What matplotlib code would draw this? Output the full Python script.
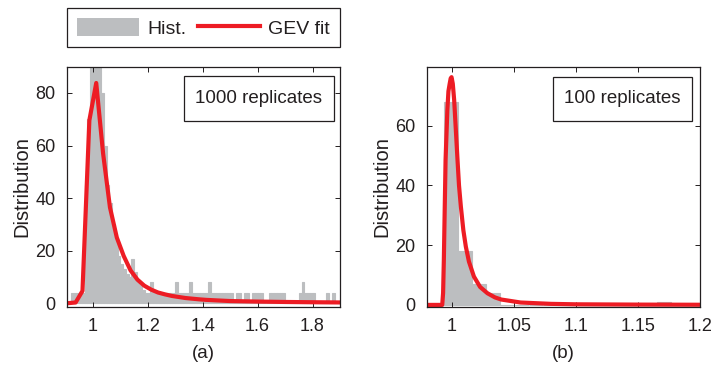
import numpy as np
import matplotlib
matplotlib.use('Agg')
import matplotlib.pyplot as plt
from matplotlib.patches import Patch, Rectangle
from matplotlib.lines import Line2D

#%% data
# (a) 1000 replicates: histogram, bins of 0.01 starting at 0.90
hist_a_start = 0.90
hist_a_width = 0.01
hist_a = [0, 0, 4, 4, 4, 4, 4, 45, 70, 100,
          100, 100, 95, 80, 60, 45, 38, 30, 24, 18,
          15, 13, 11, 10, 17, 12, 8, 7, 5, 4,
          4, 8, 4, 4, 4, 4, 4, 4, 4, 4,
          8, 4, 4, 4, 4, 8, 4, 4, 4, 4,
          4, 4, 8, 4, 4, 4, 4, 4, 4, 4,
          4, 0, 4, 4, 0, 4, 4, 0, 4, 4,
          4, 4, 0, 0, 4, 4, 4, 4, 4, 4,
          0, 0, 0, 0, 0, 4, 8, 4, 4, 4,
          4, 0, 0, 0, 0, 4, 0, 4, 0, 0]

# GEV fit (a)
fit_a_x = [0.905, 0.9375, 0.9625, 0.9875, 1.0125, 1.0375, 1.0625, 1.0875,
           1.1125, 1.1375, 1.1625, 1.1875, 1.2125, 1.2375, 1.2625, 1.2875,
           1.3125, 1.3375, 1.3625, 1.3875, 1.4125, 1.45, 1.5, 1.6, 1.7, 1.8, 1.9]
fit_a_y = [0.0, 0.3, 4.7, 69.6, 83.8, 57.0, 36.5, 25.0,
           18.0, 12.5, 9.0, 6.7, 5.2, 4.1, 3.4, 2.8,
           2.4, 2.0, 1.75, 1.5, 1.3, 1.1, 0.85, 0.65, 0.5, 0.4, 0.32]

# (b) 100 replicates: histogram
hist_b_start = 0.9936
hist_b_width = 0.01143
hist_b = [68, 18, 7, 4, 0, 0, 0, 0, 0, 0, 0, 0, 0, 0, 0, 1]

# GEV fit (b)
fit_b_x = [0.98, 0.9925, 0.9932, 0.9938, 0.9945, 0.9952, 0.9966, 0.9975,
           0.9985, 0.9993, 1.0, 1.001, 1.0021, 1.0034, 1.0048, 1.006,
           1.0075, 1.0095, 1.0115, 1.014, 1.018, 1.023, 1.0289, 1.035,
           1.04, 1.0556, 1.08, 1.1, 1.15, 1.2]
fit_b_y = [0.0, 0.0, 4.0, 15.0, 32.0, 48.5, 65.0, 71.5,
           74.0, 75.8, 76.2, 74.0, 68.6, 59.0, 48.5, 40.0,
           32.9, 25.0, 19.5, 14.5, 9.5, 6.0, 3.9, 2.5,
           1.8, 0.8, 0.35, 0.2, 0.1, 0.05]

#%% style
red = '#ed1c24'
gray = '#bcbec0'
ink = '#231f20'
plt.rcParams['font.family'] = ['Liberation Sans', 'DejaVu Sans']

W, H = 711, 367
fig = plt.figure(figsize=(W / 100, H / 100), dpi=100)
ax_a = fig.add_axes([66.7 / W, 1 - 306.7 / H, 273.3 / W, 240 / H])
ax_b = fig.add_axes([426.7 / W, 1 - 306.7 / H, 273.3 / W, 240 / H])


def draw_panel(ax, start, width, heights, fx, fy, xlim, ylim, xticks, yticks,
               xticklabels, label, boxtext, box):
    edges = start + width * np.arange(len(heights))
    ax.bar(edges, heights, width=width, align='edge', color=gray,
           edgecolor=gray, linewidth=0.8, zorder=1)
    ax.plot(fx, fy, color=red, linewidth=3.0, zorder=3)
    ax.set_xlim(*xlim)
    ax.set_ylim(*ylim)
    ax.set_xticks(xticks)
    ax.set_xticklabels(xticklabels)
    ax.set_yticks(yticks)
    ax.tick_params(direction='in', length=3.5, width=0.7, top=True, right=True,
                   labelsize=13, colors=ink)
    ax.tick_params(axis='x', pad=8)
    ax.tick_params(axis='y', pad=8)
    for sp in ax.spines.values():
        sp.set_linewidth(0.9)
        sp.set_color(ink)
        sp.set_zorder(5)
    ax.set_ylabel('Distribution', fontsize=14.5, labelpad=3, color=ink)
    ax.set_xlabel(label, fontsize=13.5, labelpad=7, color=ink)
    x0, y0, x1, y1 = box
    ax.add_patch(Rectangle((x0, y0), x1 - x0, y1 - y0, transform=ax.transAxes,
                           facecolor='white', edgecolor=ink,
                           linewidth=0.9, zorder=6))
    ax.text((x0 + x1) / 2, (y0 + y1) / 2, boxtext, transform=ax.transAxes,
            ha='center', va='center', fontsize=13.5, color=ink, zorder=7)


draw_panel(ax_a, hist_a_start, hist_a_width, hist_a, fit_a_x, fit_a_y,
           (0.905, 1.90), (-1.3, 90), [1, 1.2, 1.4, 1.6, 1.8], [0, 20, 40, 60, 80],
           ['1', '1.2', '1.4', '1.6', '1.8'], '(a)', '1000 replicates',
           (0.429, 0.774, 0.978, 0.961))
draw_panel(ax_b, hist_b_start, hist_b_width, hist_b, fit_b_x, fit_b_y,
           (0.98, 1.2), (-0.6, 79.7), [1, 1.05, 1.1, 1.15, 1.2], [0, 20, 40, 60],
           ['1', '1.05', '1.1', '1.15', '1.2'], '(b)', '100 replicates',
           (0.462, 0.775, 0.971, 0.958))

handles = [Patch(facecolor=gray, edgecolor='none'),
           Line2D([0], [0], color=red, linewidth=3.0)]
leg = fig.legend(handles, ['Hist.', 'GEV fit'], ncol=2, loc='upper left',
                 bbox_to_anchor=(67 / W, 1 - 8 / H), borderaxespad=0,
                 fancybox=False, edgecolor=ink, fontsize=14,
                 handlelength=3.2, handleheight=1.1, handletextpad=0.45,
                 columnspacing=0.55, borderpad=0.5, framealpha=1)
leg.get_frame().set_linewidth(0.9)
for t in leg.get_texts():
    t.set_color(ink)

fig.savefig('out.png', dpi=100)
